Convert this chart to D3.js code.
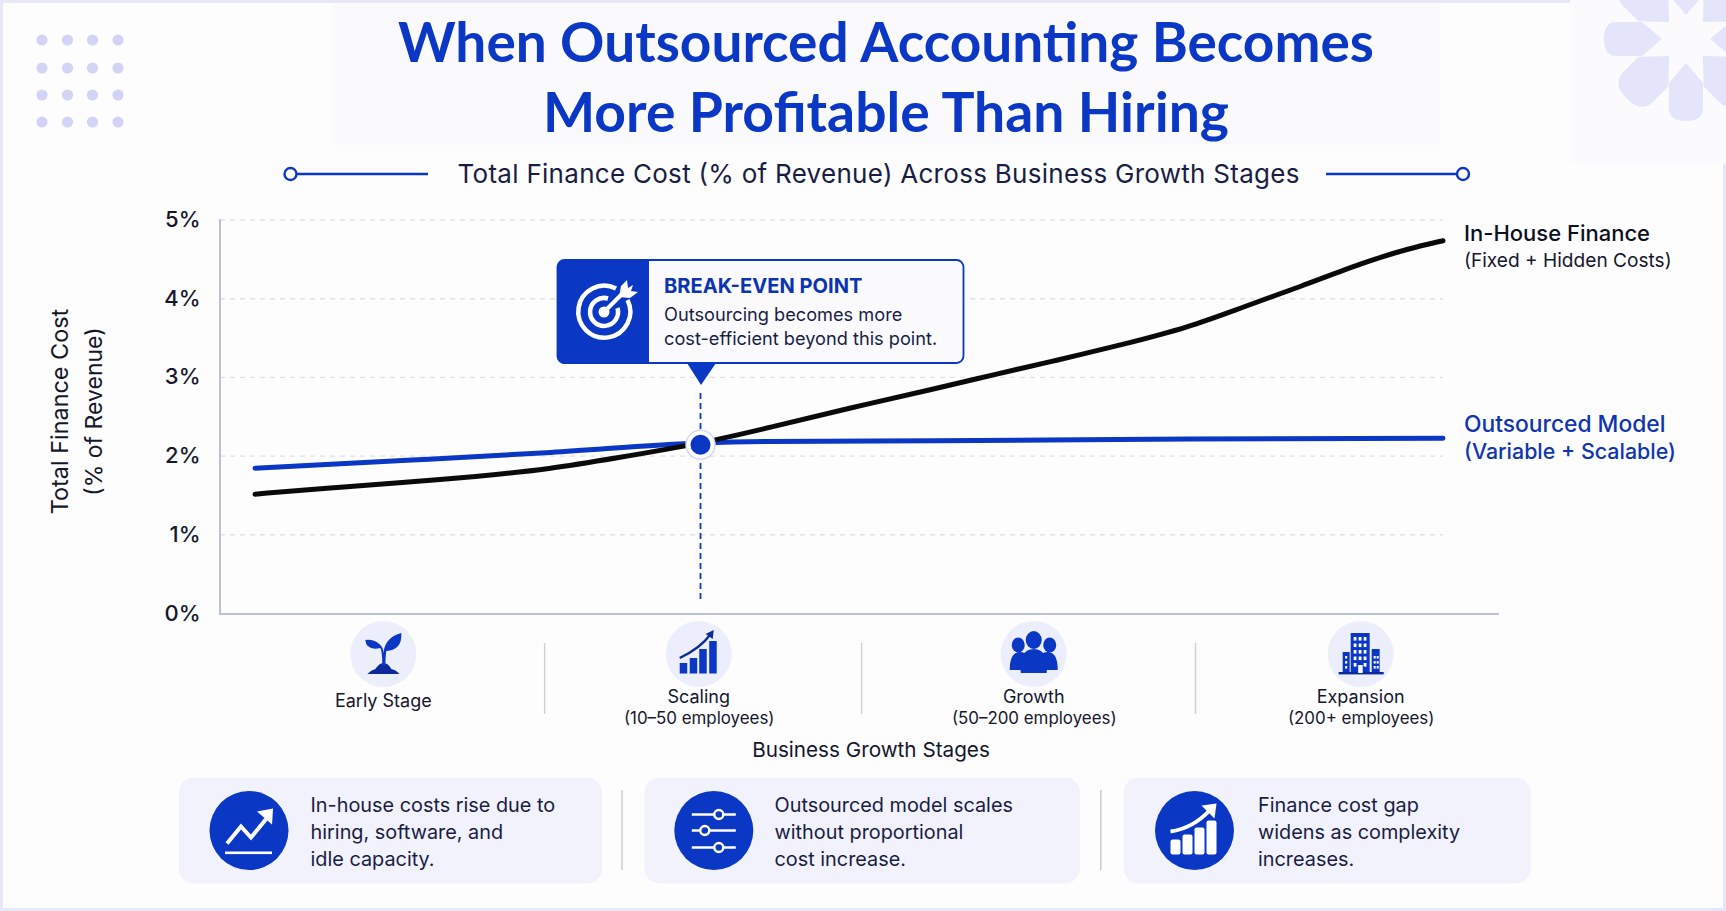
<!DOCTYPE html>
<html><head><meta charset="utf-8">
<script src="https://cdn.jsdelivr.net/npm/d3@7"></script>
<style>
html,body{margin:0;padding:0;background:#fff;overflow:hidden}
svg{display:block}
text{font-family:Inter,"Noto Sans",sans-serif}
</style></head><body>
<svg id="c" width="1726" height="911"></svg>
<script>
const titleLines=["When Outsourced Accounting Becomes","More Profitable Than Hiring"];
const subtitle="Total Finance Cost (% of Revenue) Across Business Growth Stages";
const yTicks=[0,1,2,3,4,5];
const progress=[0,6.3,12.8,18.4,24.9,30.4,37.5,43.4,49.9,57.3,61.9,67.5,73,78.6,83.2,87.9,93.4,97.1,100];
const inHouse=[1.51,1.59,1.66,1.73,1.83,1.97,2.15,2.36,2.60,2.85,3.02,3.21,3.41,3.63,3.89,4.14,4.46,4.63,4.73];
const outProgress=[0,12.8,24.9,37.5,43.4,57.3,78.6,100];
const outsourced=[1.84,1.94,2.04,2.16,2.18,2.19,2.21,2.22];
const breakEvenX=37.5, breakEvenY=2.15;
const stages=["Early Stage","Scaling","Growth","Expansion"];
const stageSubs=["","(10–50 employees)","(50–200 employees)","(200+ employees)"];
const stageAt=[10.8,37.35,65.55,93.07];
const cardTexts=[["In-house costs rise due to","hiring, software, and","idle capacity."],
["Outsourced model scales","without proportional","cost increase."],
["Finance cost gap","widens as complexity","increases."]];

const BLUE="#0a37c4",NAVY="#0a2a9c",INK="#191d45",LAV="#eceefb";
const svg=d3.select("#c");
const x=d3.scaleLinear().domain([0,100]).range([255,1443]);
const y=d3.scaleLinear().domain([0,5]).range([613,219.5]);

// background
svg.append("rect").attr("width",1726).attr("height",911).attr("fill","#fdfdfe");
svg.append("rect").attr("x",1.5).attr("y",1.5).attr("width",1723).attr("height",908).attr("fill","none").attr("stroke","#e6e8f8").attr("stroke-width",3);
svg.append("rect").attr("x",332).attr("y",4).attr("width",1108).attr("height",141).attr("fill","#fafafd");
svg.append("rect").attr("x",1570).attr("y",0).attr("width",156).attr("height",164).attr("fill","#fbfbfe");
svg.append("defs").append("clipPath").attr("id","dc").append("rect").attr("x",1570).attr("y",0).attr("width",156).attr("height",164);
const deco=svg.append("g").attr("clip-path","url(#dc)").append("g").attr("transform","translate(1686,39)");
d3.range(8).forEach(i=>{
  const d=i%2?"M0,24 L21,46 L21,68 Q21,84 0,84 Q-21,84 -21,68 L-21,46 Z":"M0,24 L17,44 L17,70 Q17,82 0,82 Q-17,82 -17,70 L-17,44 Z";
  deco.append("path").attr("transform",`rotate(${i*45})`).attr("d",d).attr("fill","#e4e4fa");
});
[42,67.5,92.5,118].forEach(cx=>[40,68,95,122].forEach(cy=>
  svg.append("circle").attr("cx",cx).attr("cy",cy).attr("r",5.6).attr("fill","#d3d4f5")));

// title
titleLines.forEach((t,i)=>svg.append("text").text(t).attr("x",886).attr("y",[62,132][i]).attr("text-anchor","middle")
  .attr("textLength",[976,686][i]).attr("lengthAdjust","spacingAndGlyphs")
  .style("font-family","Lato").attr("font-size",56).attr("font-weight",700).attr("fill",BLUE));
// subtitle
svg.append("text").text(subtitle).attr("x",878.5).attr("y",174).attr("dy","0.35em").attr("text-anchor","middle")
  .attr("textLength",842).attr("font-size",26).attr("fill",INK);
[[290.5,428],[1463,1326]].forEach(([a,b])=>{
  svg.append("line").attr("x1",a).attr("x2",b).attr("y1",174).attr("y2",174).attr("stroke",BLUE).attr("stroke-width",2.4);
  svg.append("circle").attr("cx",a).attr("cy",174).attr("r",6).attr("fill","#fff").attr("stroke",BLUE).attr("stroke-width",2.4);
});

// grid and axes
const gy=svg.append("g").attr("transform","translate(220,0)").call(d3.axisLeft(y).tickValues(yTicks).tickFormat(d=>d+"%").tickSize(0).tickPadding(19.5));
gy.select(".domain").remove();
gy.selectAll("text").attr("font-size",22).attr("font-weight",500).attr("fill","#15172b").style("font-family","Inter");
gy.selectAll(".tick").filter(d=>d>0).append("line").attr("x1",0).attr("x2",1223).attr("stroke","#e0e2e8").attr("stroke-width",1.4).attr("stroke-dasharray","5 5");
svg.append("line").attr("x1",220).attr("x2",220).attr("y1",219).attr("y2",615).attr("stroke","#bcc2d2").attr("stroke-width",2);
svg.append("line").attr("x1",219).attr("x2",1499).attr("y1",614).attr("y2",614).attr("stroke","#bcc2d2").attr("stroke-width",2);

svg.append("text").attr("transform","translate(60,411.5) rotate(-90)").attr("text-anchor","middle").attr("dy","0.35em").attr("font-size",23.4).attr("font-weight",400).attr("fill","#15172b").text("Total Finance Cost");
svg.append("text").attr("transform","translate(94,411.5) rotate(-90)").attr("text-anchor","middle").attr("dy","0.35em").attr("font-size",23).attr("fill","#15172b").text("(% of Revenue)");

// break-even dashed drop line
svg.append("line").attr("x1",x(breakEvenX)).attr("x2",x(breakEvenX)).attr("y1",393).attr("y2",602).attr("stroke",BLUE).attr("stroke-width",1.8).attr("stroke-dasharray","6 4");

// lines
const blueGen=d3.line().x(d=>x(d[0])).y(d=>y(d[1])).curve(d3.curveMonotoneX);
const blackGen=d3.line().x(d=>x(d[0])).y(d=>y(d[1])).curve(d3.curveBasis);
svg.append("path").attr("d",blueGen(d3.zip(outProgress,outsourced))).attr("fill","none").attr("stroke",BLUE).attr("stroke-width",5).attr("stroke-linecap","round");
svg.append("path").attr("d",blackGen(d3.zip(progress,inHouse))).attr("fill","none").attr("stroke","#0a0a0a").attr("stroke-width",5).attr("stroke-linecap","round");

// point
svg.append("circle").attr("cx",x(breakEvenX)).attr("cy",y(breakEvenY)+1).attr("r",14.5).attr("fill","#fff").attr("stroke","#d5d8f3").attr("stroke-width",1.5);
svg.append("circle").attr("cx",x(breakEvenX)).attr("cy",y(breakEvenY)+1).attr("r",10).attr("fill",BLUE);

// callout
const co=svg.append("g");
co.append("rect").attr("x",557.5).attr("y",260).attr("width",406).attr("height",103).attr("rx",7).attr("fill","#fbfbfe").attr("stroke",BLUE).attr("stroke-width",1.8);
co.append("path").attr("d","M557,268 a8,8 0 0 1 8,-8 H649 V364 H565 a8,8 0 0 1 -8,-8 Z").attr("fill",BLUE);
co.append("path").attr("d","M687,363 H716 L701,385 Z").attr("fill",BLUE);
co.append("text").text("BREAK-EVEN POINT").attr("x",664).attr("y",285.5).attr("dy","0.35em").attr("font-size",20.1).attr("font-weight",700).attr("fill","#0b34b0");
["Outsourcing becomes more","cost-efficient beyond this point."].forEach((t,i)=>co.append("text").text(t).attr("x",664).attr("y",315+i*23.5).attr("dy","0.35em").attr("font-size",18.2).attr("fill",INK));
const tg=co.append("g").attr("transform","translate(604,312)").attr("fill","none").attr("stroke","#fff");
tg.append("path").attr("d","M12,-23.5 A26,26 0 1 0 23.5,-12").attr("stroke-width",4.5);
tg.append("path").attr("d","M4,-13.5 A14,14 0 1 0 13.5,-4").attr("stroke-width",4.5);
tg.append("circle").attr("r",5.5).attr("fill","#fff").attr("stroke","none");
tg.append("line").attr("x1",0).attr("y1",0).attr("x2",18).attr("y2",-18).attr("stroke-width",4);
tg.append("path").attr("d","M15,-15 L17,-26 L23,-32 L24,-24 L29,-27 L27,-21 L34,-20 L26,-14 Z").attr("fill","#fff").attr("stroke","none");

// right labels
[["In-House Finance",233.5,22,500,"#0d0f1e"],["(Fixed + Hidden Costs)",260.5,19.1,400,"#15172b"],
 ["Outsourced Model",424,22.8,500,"#0f35b0"],["(Variable + Scalable)",452,21.4,500,"#0f35b0"]]
 .forEach(([t,yy,fs,w,c])=>svg.append("text").text(t).attr("x",1464).attr("y",yy).attr("dy","0.35em").attr("font-size",fs).attr("font-weight",w).attr("fill",c));

// stage icons
const icons=[
 g=>{g.append("path").attr("d","M-16,20 Q-12,16 -8,15 Q-4,9 0,9 Q5,9 8,15 Q13,16 16,20 Z").attr("fill",NAVY);
     g.append("path").attr("d","M-1,12 Q-1,-3 -3,-6 Q-17,-3 -18,-14 Q-10,-15 -4,-10 Q0,-7 0,-1 Q2,-17 18,-21 Q19,-4 3,-3 Q2,4 2,12 Z").attr("fill",BLUE);},
 g=>{[[-19,9],[-9,4],[0.5,-5],[10.5,-13]].forEach(([a,t])=>g.append("rect").attr("x",a).attr("y",t).attr("width",7.5).attr("height",19.5-t).attr("fill",BLUE));
     g.append("path").attr("d","M-19,4 Q2,-6 12,-20").attr("fill","none").attr("stroke",NAVY).attr("stroke-width",2.2);
     g.append("path").attr("d","M7,-20 L15,-24 L14,-15 Z").attr("fill",NAVY);},
 g=>{[[-15.5,-9,6.5],[16,-9,6.5],[0,-14,8]].forEach(([a,b,r])=>g.append("ellipse").attr("cx",a).attr("cy",b).attr("rx",r).attr("ry",r+1).attr("fill",BLUE));
     g.append("path").attr("d","M-24,16 Q-24,-2 -14,-2 Q-8,-2 -7,2 L-11,16 Z M24,16 Q24,-2 14,-2 Q8,-2 7,2 L11,16 Z").attr("fill",BLUE);
     g.append("path").attr("d","M-13,19 Q-15,-5 0,-5 Q15,-5 13,19 Z").attr("fill",BLUE);},
 g=>{g.append("rect").attr("x",-10).attr("y",-21).attr("width",19).attr("height",40).attr("fill",BLUE);
     g.append("rect").attr("x",-18).attr("y",-2).attr("width",7).attr("height",21).attr("fill",BLUE);
     g.append("rect").attr("x",11).attr("y",-5).attr("width",8).attr("height",24).attr("fill",BLUE);
     g.append("rect").attr("x",-22).attr("y",18).attr("width",45).attr("height",2.4).attr("fill",NAVY);
     d3.range(5).forEach(r=>d3.range(3).forEach(c=>{ if(r==4&&c==1)return; g.append("rect").attr("x",-7+c*5).attr("y",-17+r*6.5).attr("width",2.8).attr("height",3.6).attr("fill","#fff");}));
     d3.range(3).forEach(r=>{[-15.5,13,16].forEach(cx=>g.append("rect").attr("x",cx).attr("y",2+r*5).attr("width",2).attr("height",2.6).attr("fill","#fff"));});
     g.append("rect").attr("x",-2.5).attr("y",11).attr("width",4.5).attr("height",8).attr("fill","#fff");}
];
stages.forEach((s,i)=>{
  const cx=x(stageAt[i]);
  svg.append("ellipse").attr("cx",cx).attr("cy",654).attr("rx",33).attr("ry",33).attr("fill",LAV);
  icons[i](svg.append("g").attr("transform",`translate(${cx},654)`));
  svg.append("text").text(s).attr("x",cx).attr("y",i?696.5:701).attr("dy","0.35em").attr("text-anchor","middle").attr("font-size",18).attr("font-weight",400).attr("fill","#15172b");
  if(stageSubs[i]) svg.append("text").text(stageSubs[i]).attr("x",cx+0.5).attr("y",718.5).attr("dy","0.35em").attr("text-anchor","middle").attr("font-size",16.9).attr("fill","#15172b");
});
[544.6,861.6,1195.5].forEach(sx=>svg.append("line").attr("x1",sx).attr("x2",sx).attr("y1",643).attr("y2",714).attr("stroke","#ccd0da").attr("stroke-width",1.4));
svg.append("text").text("Business Growth Stages").attr("x",871).attr("y",749.5).attr("dy","0.35em").attr("text-anchor","middle").attr("font-size",20.7).attr("font-weight",400).attr("fill","#15172b");

// bottom cards
const cards=[[179,602,249,310.5],[644.5,1080,713.8,774.5],[1123.6,1530.7,1194.5,1258]];
const cardIcons=[
 g=>{g.append("path").attr("d","M-22,13 L-8,-4 L2,7 L20,-15").attr("fill","none").attr("stroke","#fff").attr("stroke-width",4);
     g.append("path").attr("d","M8,-19 L24,-22 L23,-6 Z").attr("fill","#fff");
     g.append("rect").attr("x",-24).attr("y",21).attr("width",47).attr("height",2.6).attr("fill","#fff");},
 g=>{[0,1,2].forEach(i=>{
       const yy=[-16,0,17][i],cxp=[5,-9,5][i];
       g.append("line").attr("x1",-22).attr("x2",22).attr("y1",yy).attr("y2",yy).attr("stroke","#fff").attr("stroke-width",2.6);
       g.append("circle").attr("cx",cxp).attr("cy",yy).attr("r",4.5).attr("fill",BLUE).attr("stroke","#fff").attr("stroke-width",2.4);});},
 g=>{[[-24,9],[-12,4],[0,-3],[12,-10]].forEach(([a,t])=>g.append("rect").attr("x",a).attr("y",t).attr("width",10).attr("height",24-t).attr("rx",2).attr("fill","#fff"));
     g.append("path").attr("d","M-24,1 Q-2,-2 15,-20").attr("fill","none").attr("stroke","#fff").attr("stroke-width",4);
     g.append("path").attr("d","M7,-25 L22,-27 L20,-12 Z").attr("fill","#fff");}
];
cards.forEach(([a,b,cx,tx],i)=>{
  svg.append("rect").attr("x",a).attr("y",777.5).attr("width",b-a).attr("height",106).attr("rx",15).attr("fill","#f1f2fc");
  svg.append("circle").attr("cx",cx).attr("cy",830.5).attr("r",39.5).attr("fill",BLUE);
  cardIcons[i](svg.append("g").attr("transform",`translate(${cx},830.5)`));
  cardTexts[i].forEach((t,j)=>svg.append("text").text(t).attr("x",tx).attr("y",805.5+j*27).attr("dy","0.35em").attr("font-size",19.85).attr("fill",INK));
});
[622,1100.8].forEach(sx=>svg.append("line").attr("x1",sx).attr("x2",sx).attr("y1",790).attr("y2",870).attr("stroke","#c6c9d2").attr("stroke-width",1.4));
</script>
</body></html>
